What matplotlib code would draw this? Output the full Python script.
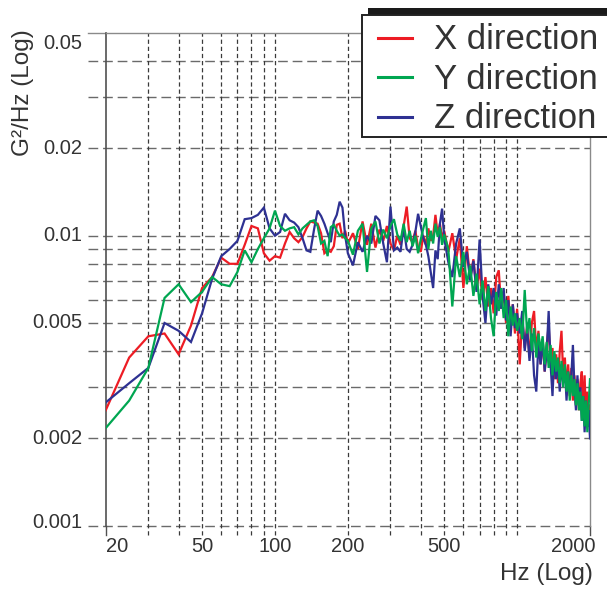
import matplotlib.pyplot as plt
from matplotlib.patches import Rectangle
from matplotlib.lines import Line2D
from matplotlib.transforms import blended_transform_factory, ScaledTranslation

plt.rcParams["font.family"] = ["Liberation Sans", "DejaVu Sans"]

# frequency grid of the PSD (Hz)
freq = (list(range(20, 201, 5)) + list(range(210, 501, 10))
        + list(range(520, 1001, 20)) + list(range(1025, 2001, 25)))

# PSD values, G^2/Hz
x_psd = [
    # 20 - 200 Hz
    0.0025, 0.0038, 0.0045, 0.0046, 0.0039, 0.0049, 0.0066, 0.0072, 0.0084, 0.0080,
    0.0080, 0.0093, 0.0108, 0.0106, 0.0087, 0.0082, 0.0085, 0.0084, 0.0094, 0.0103,
    0.0098, 0.0095, 0.0099, 0.0106, 0.0112, 0.0111, 0.0110, 0.0102, 0.0087, 0.0089,
    0.0088, 0.0092, 0.0109, 0.0110, 0.0098, 0.0104, 0.0094,
    # 210 - 500 Hz
    0.0102, 0.0090, 0.0112, 0.0093, 0.0110, 0.0091, 0.0105, 0.0096, 0.0108, 0.0094,
    0.0089, 0.0100, 0.0093, 0.0108, 0.0126, 0.0098, 0.0095, 0.0104, 0.0091, 0.0088,
    0.0100, 0.0093, 0.0106, 0.0096, 0.0100, 0.0118, 0.0101, 0.0110, 0.0098, 0.0104,
    # 520 - 1000 Hz
    0.0088, 0.0102, 0.0083, 0.0098, 0.0066, 0.0092, 0.0071, 0.0083, 0.0065, 0.0077,
    0.0060, 0.0072, 0.0057, 0.0066, 0.0054, 0.0072, 0.0076, 0.0056, 0.0064, 0.0050,
    0.0062, 0.0049, 0.0058, 0.0046, 0.0056,
    # 1025 - 2000 Hz
    0.0036, 0.0052, 0.0041, 0.0049, 0.0038, 0.0050, 0.0055, 0.0040, 0.0047, 0.0036,
    0.0044, 0.0034, 0.0042, 0.0049, 0.0035, 0.0041, 0.0032, 0.0039, 0.0031, 0.0040,
    0.0047, 0.0033, 0.0038, 0.0029, 0.0036, 0.0028, 0.0035, 0.0027, 0.0033, 0.0026,
    0.0032, 0.0025, 0.0031, 0.0034, 0.0024, 0.0033, 0.0023, 0.0029, 0.0022, 0.0026,
]
y_psd = [
    0.00217, 0.0027, 0.0035, 0.0061, 0.0068, 0.0059, 0.0064, 0.0072, 0.0068, 0.0067,
    0.0075, 0.0089, 0.0081, 0.0090, 0.0098, 0.0106, 0.0122, 0.0108, 0.0104, 0.0106,
    0.0107, 0.0101, 0.0106, 0.0109, 0.0112, 0.0113, 0.0108, 0.0094, 0.0096, 0.0085,
    0.0107, 0.0109, 0.0104, 0.0100, 0.0101, 0.0098, 0.0096,
    0.0086, 0.0104, 0.0110, 0.0075, 0.0106, 0.0112, 0.0094, 0.0105, 0.0098, 0.0108,
    0.0114, 0.0101, 0.0096, 0.0110, 0.0095, 0.0104, 0.0092, 0.0100, 0.0087, 0.0097,
    0.0106, 0.0115, 0.0090, 0.0104, 0.0094, 0.0110, 0.0099, 0.0107, 0.0093, 0.0101,
    0.0090, 0.0057, 0.0085, 0.0072, 0.0088, 0.0068, 0.0079, 0.0062, 0.0074, 0.0058,
    0.0070, 0.0055, 0.0067, 0.0052, 0.0045, 0.0064, 0.0055, 0.0066, 0.0052, 0.0060,
    0.0045, 0.0057, 0.0049, 0.0054, 0.0047,
    0.0052, 0.0044, 0.0065, 0.0046, 0.0052, 0.0040, 0.0048, 0.0038, 0.0046, 0.0040,
    0.0045, 0.0036, 0.0043, 0.0035, 0.0042, 0.0033, 0.0040, 0.0034, 0.0038, 0.0031,
    0.0037, 0.0030, 0.0036, 0.0029, 0.0034, 0.0027, 0.0033, 0.0028, 0.0032, 0.0026,
    0.0031, 0.0025, 0.0029, 0.0023, 0.0028, 0.0022, 0.0027, 0.0021, 0.0026, 0.0032,
]
z_psd = [
    0.00266, 0.0031, 0.0035, 0.0050, 0.0047, 0.0043, 0.0054, 0.0071, 0.0085, 0.0090,
    0.0096, 0.0114, 0.0115, 0.0118, 0.0125, 0.0106, 0.0100, 0.0103, 0.0119, 0.0113,
    0.0111, 0.0107, 0.0098, 0.0089, 0.0088, 0.0105, 0.0122, 0.0117, 0.0110, 0.0102,
    0.0095, 0.0112, 0.0118, 0.0131, 0.0125, 0.0100, 0.0087,
    0.0079, 0.0095, 0.0088, 0.0100, 0.0094, 0.0117, 0.0113, 0.0094, 0.0081, 0.0126,
    0.0089, 0.0091, 0.0088, 0.0107, 0.0090, 0.0088, 0.0093, 0.0103, 0.0119, 0.0108,
    0.0098, 0.0093, 0.0085, 0.0075, 0.0066, 0.0089, 0.0083, 0.0110, 0.0124, 0.0098,
    0.0081, 0.0072, 0.0094, 0.0106, 0.0078, 0.0088, 0.0070, 0.0082, 0.0064, 0.0097,
    0.0062, 0.0050, 0.0068, 0.0058, 0.0066, 0.0053, 0.0068, 0.0056, 0.0066, 0.0051,
    0.0060, 0.0045, 0.0058, 0.0048, 0.0054,
    0.0046, 0.0055, 0.0040, 0.0048, 0.0037, 0.0046, 0.0033, 0.0029, 0.0043, 0.0036,
    0.0044, 0.0034, 0.0040, 0.0055, 0.0036, 0.0028, 0.0039, 0.0032, 0.0037, 0.0029,
    0.0036, 0.0031, 0.0035, 0.0027, 0.0034, 0.0029, 0.0033, 0.0042, 0.0030, 0.0025,
    0.0033, 0.0026, 0.0030, 0.0023, 0.0028, 0.0021, 0.0027, 0.0022, 0.0025, 0.0020,
]

series_names = ["X direction", "Y direction", "Z direction"]
series_colors = ["#ed1c24", "#00a651", "#2e3192"]

x_ticks = [20, 50, 100, 200, 500, 2000]
x_tick_labels = ["20", "50", "100", "200", "500", "2000"]
y_ticks = [0.001, 0.002, 0.005, 0.01, 0.02, 0.05]
y_tick_labels = ["0.001", "0.002", "0.005", "0.01", "0.02", "0.05"]
x_grid = [30, 40, 50, 60, 70, 80, 90, 100, 200, 300, 400, 500, 600, 700, 800, 900, 1000]
y_grid = [0.001, 0.002, 0.003, 0.004, 0.005, 0.006, 0.007, 0.008, 0.009,
          0.01, 0.02, 0.03, 0.04]

W, H = 607, 589
TEXT = "#333333"

fig = plt.figure(figsize=(W / 100, H / 100), dpi=100)
fig.patch.set_facecolor("white")
ax = fig.add_axes([105.7 / W, 1 - 525.7 / H, 484.3 / W, 492.7 / H])
ax.set_xscale("log")
ax.set_yscale("log")
ax.set_xlim(20, 2000)
ax.set_ylim(0.001, 0.05)
ax.tick_params(which="both", length=0, labelbottom=False, labelleft=False)

ax.spines["bottom"].set_visible(False)
ax.spines["left"].set_color("#505050")
ax.spines["left"].set_linewidth(1.2)
for s in ("top", "right"):
    ax.spines[s].set_color("#8a8a8a")
    ax.spines[s].set_linewidth(1.0)

# grid lines, sticking out past the axes like tick marks
for v in y_grid:
    ax.axhline(v, xmin=-0.0365, xmax=1, color="#6a6a6a", lw=1.0,
               dashes=(7, 3.5), clip_on=False, zorder=1)
ax.axhline(0.05, xmin=-0.0365, xmax=0, color="#8a8a8a", lw=1.0, clip_on=False)
for v in x_grid:
    ax.axvline(v, ymin=-0.019, ymax=1, color="#3a3a3a", lw=0.9,
               dashes=(3.4, 2.3), clip_on=False, zorder=1)
for v in (20, 2000):
    ax.axvline(v, ymin=-0.019, ymax=0, color="#505050", lw=1.0, clip_on=False)

# data
for vals, c in [(x_psd, series_colors[0]), (z_psd, series_colors[2]),
                (y_psd, series_colors[1])]:
    ax.plot(freq, vals, color=c, lw=1.6, zorder=3, solid_joinstyle="miter")

# tick labels
ty = blended_transform_factory(ax.transAxes, ax.transData)
for v, lab in zip(y_ticks, y_tick_labels):
    tr = ty
    va = "center"
    if v == 0.05:
        va = "top"
        tr = ty + ScaledTranslation(0, -0.01, fig.dpi_scale_trans)
    elif v == 0.001:
        va = "baseline"
        tr = ty + ScaledTranslation(0, -0.02, fig.dpi_scale_trans)
    ax.text(-0.049, v, lab, transform=tr, ha="right", va=va,
            fontsize=14.5, color=TEXT)

tx = blended_transform_factory(ax.transData, ax.transAxes)
for v, lab in zip(x_ticks, x_tick_labels):
    ha = "center"
    tr = tx
    if v == 20:
        ha = "left"
    elif v == 2000:
        ha = "right"
        tr = tx + ScaledTranslation(0.05, 0, fig.dpi_scale_trans)
    ax.text(v, -0.042, lab, transform=tr, ha=ha, va="center",
            fontsize=14.5, color=TEXT)

fig.text(593 / W, 1 - 580 / H, "Hz (Log)", ha="right", va="baseline",
         fontsize=17.5, color=TEXT)
fig.text(29.5 / W, 1 - 29 / H, "G²/Hz (Log)", ha="right", va="baseline",
         rotation=90, rotation_mode="anchor", fontsize=17.5, color=TEXT)


# legend box with its offset shadow, drawn in figure pixels
def fx(px):
    return px / W


def fy(py):
    return 1 - py / H


fig.add_artist(Rectangle((fx(368), fy(131)), fx(260), 123 / H,
                         transform=fig.transFigure, facecolor="#1a1a1a",
                         edgecolor="none", zorder=5))
fig.add_artist(Rectangle((fx(362), fy(137)), fx(260), 122 / H,
                         transform=fig.transFigure, facecolor="white",
                         edgecolor="#222222", lw=1.4, zorder=6))
for name, c, yb, yl in zip(series_names, series_colors, [49, 89, 128], [38, 77, 117]):
    fig.add_artist(Line2D([fx(378), fx(412)], [fy(yl), fy(yl)],
                          transform=fig.transFigure, color=c, lw=2.2, zorder=7))
    fig.text(fx(434), fy(yb), name, ha="left", va="baseline",
             fontsize=25, color=TEXT, zorder=7)

fig.savefig("out.png", dpi=100)
